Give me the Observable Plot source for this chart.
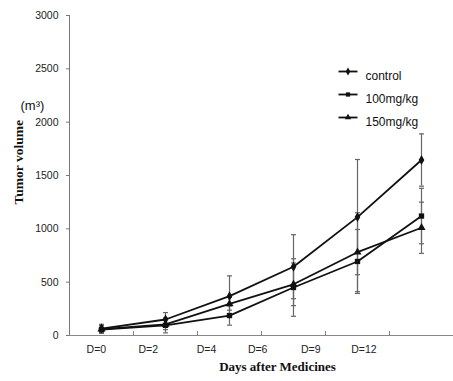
<!DOCTYPE html>
<html><head><meta charset="utf-8">
<script src="https://cdn.jsdelivr.net/npm/d3@7"></script>
<script src="https://cdn.jsdelivr.net/npm/@observablehq/plot@0.6"></script>
<style>body{margin:0;background:#fff} svg{display:block}</style>
</head><body><div id="chart"></div>
<script>
const days = ["D=0","D=2","D=4","D=6","D=9","D=12"];
const dayLabelPos = [0.42, 1.23, 2.14, 2.94, 3.77, 4.6];
const xTickPos = [1, 2, 3, 4, 5];
const yTicks = [0, 500, 1000, 1500, 2000, 2500, 3000];
const seriesNames = ["control", "100mg/kg", "150mg/kg"];
const seriesSymbols = ["diamond", "square", "triangle"];
const control = [65, 150, 369, 645, 1110, 1645];
const controlErr = [40, 65, 190, 300, 540, 245];
const mg100 = [55, 95, 187, 450, 694, 1120];
const mg100Err = [35, 70, 90, 270, 300, 260];
const mg150 = [60, 105, 297, 480, 781, 1010];
const mg150Err = [35, 50, 60, 200, 370, 240];

const values = [control, mg100, mg150];
const errs = [controlErr, mg100Err, mg150Err];
const data = [];
seriesNames.forEach((s, k) => {
  values[k].forEach((v, i) => data.push({series: s, pos: i + 0.5, v, e: errs[k][i]}));
});

const hline = w => ({draw(ctx) { ctx.moveTo(-w / 2, 0); ctx.lineTo(w / 2, 0); }});

const legendMarks = [];
seriesNames.forEach((s, k) => {
  const dy = 56 + 23 * k;
  legendMarks.push(
    Plot.dot([s], {frameAnchor: "top-left", dx: 278.5, dy, symbol: hline(19), stroke: "#111", strokeWidth: 1.8}),
    Plot.dot([s], {frameAnchor: "top-left", dx: 278.5, dy, symbol: seriesSymbols[k], fill: "#111", stroke: "none", r: 2.4}),
    Plot.text([s], {frameAnchor: "top-left", dx: 296, dy, textAnchor: "start", fontSize: 12, fill: "#111"})
  );
});

const chart = Plot.plot({
  width: 453,
  height: 381,
  marginLeft: 69,
  marginRight: 0,
  marginTop: 15,
  marginBottom: 46,
  style: {fontFamily: "'Liberation Sans', Arial, sans-serif", background: "#fff", color: "#222"},
  x: {domain: [0, 6], axis: null},
  y: {domain: [0, 3000], axis: null},
  symbol: {domain: seriesNames, range: seriesSymbols},
  marks: [
    Plot.ruleX([0], {stroke: "#777"}),
    Plot.ruleY([0], {stroke: "#888"}),
    Plot.ruleX(xTickPos, {y1: 0, y2: 0, insetTop: -4, stroke: "#888"}),
    Plot.axisY(yTicks, {tickSize: 3, tickPadding: 8, fontSize: 10.5, stroke: "#777", fill: "#222", tickFormat: "d", label: null}),
    Plot.text(days, {x: (d, i) => dayLabelPos[i], frameAnchor: "bottom", dy: 17, fontSize: 10.5, fill: "#222"}),
    Plot.ruleX(data, {x: "pos", y1: d => d.v - d.e, y2: d => d.v + d.e, stroke: "#666", strokeWidth: 1.2}),
    Plot.dot(data, {x: "pos", y: d => d.v + d.e, symbol: hline(5), stroke: "#666", strokeWidth: 1.2}),
    Plot.dot(data, {x: "pos", y: d => d.v - d.e, symbol: hline(5), stroke: "#666", strokeWidth: 1.2}),
    Plot.line(data, {x: "pos", y: "v", z: "series", stroke: "#111", strokeWidth: 1.8}),
    Plot.dot(data, {x: "pos", y: "v", symbol: "series", fill: "#111", stroke: "none", r: 3}),
    ...legendMarks,
    Plot.text(["Tumor volume"], {frameAnchor: "left", rotate: -90, dx: -51, dy: 29, fontFamily: "'Liberation Serif', 'Times New Roman', serif", fontWeight: "bold", fontSize: 13.5, fill: "#111"}),
    Plot.text(["(m³)"], {frameAnchor: "top-left", dx: -49, dy: 85, fontSize: 13, fill: "#111"}),
    Plot.text(["Days after Medicines"], {frameAnchor: "bottom", dx: 16, dy: 35, fontFamily: "'Liberation Serif', 'Times New Roman', serif", fontWeight: "bold", fontSize: 13, fill: "#111"})
  ]
});
document.getElementById("chart").appendChild(chart);
</script>
</body></html>
